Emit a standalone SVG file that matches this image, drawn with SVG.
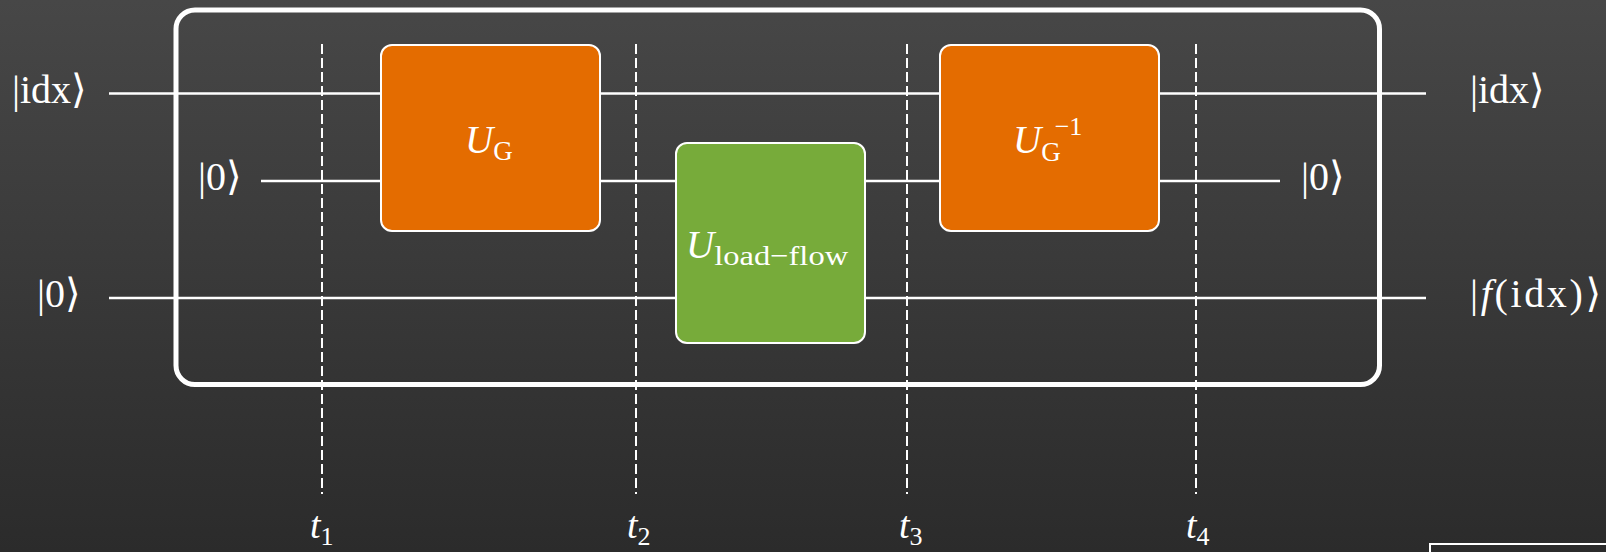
<svg xmlns="http://www.w3.org/2000/svg" width="1606" height="552" viewBox="0 0 1606 552">
  <defs>
    <linearGradient id="bg" x1="0" y1="0" x2="0" y2="1">
      <stop offset="0" stop-color="#474747"/>
      <stop offset="1" stop-color="#2b2b2b"/>
    </linearGradient>
    <style>
      .wire { stroke: #ffffff; stroke-width: 2.5; fill: none; }
      .tick { stroke: #ffffff; stroke-width: 2; stroke-dasharray: 10 4; fill: none; }
      .frame { stroke: #ffffff; stroke-width: 5; fill: none; }
      .gate { stroke: #ffffff; stroke-width: 2; }
      .orange { fill: #e46c00; }
      .green { fill: #77ab3a; }
      .lbl { font-family: "Liberation Serif", "DejaVu Serif", serif; fill: #ffffff; font-size: 40px; }
      .math { font-family: "Liberation Serif", "DejaVu Serif", serif; fill: #ffffff; }
      .it { font-style: italic; }
    </style>
  </defs>

  <rect x="0" y="0" width="1606" height="552" fill="url(#bg)"/>

  <!-- register wires and time slices -->
  <g id="connectors">
    <line class="wire" x1="109" y1="93.5" x2="1426" y2="93.5"/>
    <line class="wire" x1="261" y1="181" x2="1280" y2="181"/>
    <line class="wire" x1="109" y1="298" x2="1426" y2="298"/>
    <line class="tick" x1="322" y1="44" x2="322" y2="494"/>
    <line class="tick" x1="636" y1="44" x2="636" y2="494"/>
    <line class="tick" x1="907" y1="44" x2="907" y2="494"/>
    <line class="tick" x1="1196" y1="44" x2="1196" y2="494"/>
  </g>

  <!-- surrounding block -->
  <g id="frame">
    <rect class="frame" x="176" y="10" width="1203.5" height="374.5" rx="19"/>
  </g>

  <!-- gates -->
  <g id="gate-ug">
    <rect class="gate orange" x="381" y="45" width="219" height="186" rx="11"/>
    <text class="math" x="465" y="153" font-size="39"><tspan class="it">U</tspan><tspan font-size="27" dy="7">G</tspan></text>
  </g>
  <g id="gate-load-flow">
    <rect class="gate green" x="676" y="143" width="189" height="200" rx="11"/>
    <text class="math" x="686" y="258" font-size="39"><tspan class="it">U</tspan><tspan font-size="28" dy="7" textLength="134" lengthAdjust="spacingAndGlyphs">load−flow</tspan></text>
  </g>
  <g id="gate-ug-inv">
    <rect class="gate orange" x="940" y="45" width="219" height="186" rx="11"/>
    <text class="math" x="1013" y="153" font-size="39"><tspan class="it">U</tspan><tspan font-size="27" dy="8">G</tspan><tspan font-size="26" dx="-6" dy="-26">−1</tspan></text>
  </g>

  <!-- input kets -->
  <g id="in-idx"><text class="lbl" x="12" y="103">|idx⟩</text></g>
  <g id="in-anc"><text class="lbl" x="198" y="190">|0⟩</text></g>
  <g id="in-out"><text class="lbl" x="37" y="307">|0⟩</text></g>

  <!-- output kets -->
  <g id="out-idx"><text class="lbl" x="1470" y="103">|idx⟩</text></g>
  <g id="out-anc"><text class="lbl" x="1301" y="190">|0⟩</text></g>
  <g id="out-f"><text class="lbl" x="1470" y="307" textLength="131" lengthAdjust="spacing">|<tspan class="it">f</tspan>(idx)⟩</text></g>

  <!-- time labels -->
  <g id="t1"><text class="math" x="310" y="538" font-size="38"><tspan class="it">t</tspan><tspan font-size="26" dy="7">1</tspan></text></g>
  <g id="t2"><text class="math" x="627" y="538" font-size="38"><tspan class="it">t</tspan><tspan font-size="26" dy="7">2</tspan></text></g>
  <g id="t3"><text class="math" x="899" y="538" font-size="38"><tspan class="it">t</tspan><tspan font-size="26" dy="7">3</tspan></text></g>
  <g id="t4"><text class="math" x="1186" y="538" font-size="38"><tspan class="it">t</tspan><tspan font-size="26" dy="7">4</tspan></text></g>

  <!-- panel edge at lower right -->
  <rect x="1430" y="544" width="200" height="40" fill="none" stroke="#ffffff" stroke-width="2"/>
</svg>
